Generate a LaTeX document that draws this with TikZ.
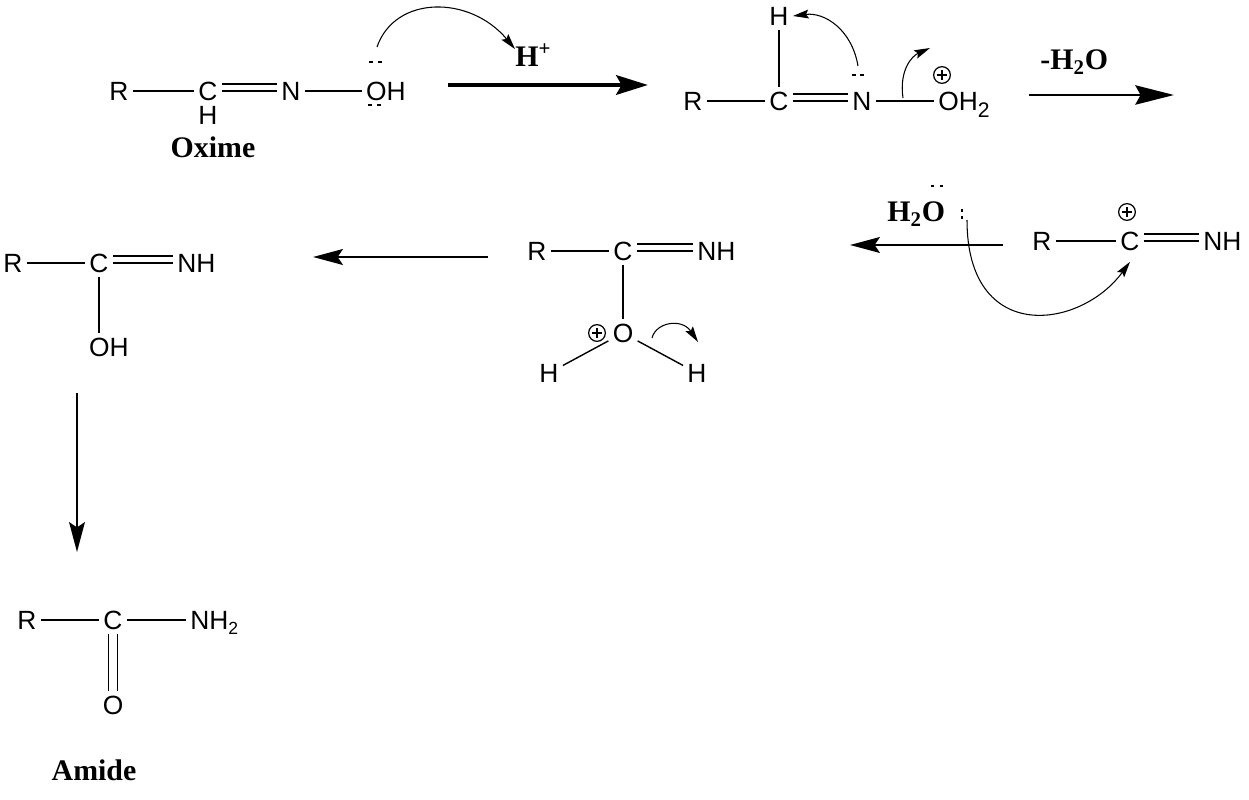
\documentclass[tikz,border=0pt]{standalone}
\usepackage{fontspec}
\setmainfont{Liberation Sans}
\newfontfamily\labelfont{Liberation Serif}
\usetikzlibrary{arrows.meta,calc}

\begin{document}
\begin{tikzpicture}[x=0.02cm,y=-0.02cm,
  atom/.style={inner sep=2.3pt,font=\fontsize{15}{15}\selectfont,text height=10.7pt,text depth=0pt},
  bond/.style={line width=0.8pt},
  lp/.style={line width=1.2pt},
  chg/.style={circle,draw,line width=0.7pt,minimum size=9.5pt,inner sep=0pt,
    path picture={\draw[line width=1.1pt]
      ($(path picture bounding box.north)+(0pt,-2pt)$) -- ($(path picture bounding box.south)+(0pt,2pt)$)
      ($(path picture bounding box.west)+(2pt,0pt)$) -- ($(path picture bounding box.east)+(-2pt,0pt)$);}},
  molname/.style={font=\labelfont\bfseries\fontsize{17}{17}\selectfont,inner sep=0pt},
  cond/.style={font=\labelfont\bfseries\fontsize{17}{17}\selectfont,inner sep=0pt,anchor=base west},
  rxnthick/.style={line width=2.8pt,-{Stealth[length=18pt,width=11pt,inset=3pt]}},
  rxnarrow/.style={line width=1.5pt,-{Stealth[length=17pt,width=9pt,inset=3pt]}},
  push/.style={line width=0.6pt,-{Stealth[length=9pt,width=5pt,inset=1.5pt]}}]
  \useasboundingbox (0,0) rectangle (1249,800);

  % oxime
  \node[atom] (r1) at (119,91) {R};
  \node[atom] (c1) at (208,91) {C};
  \node[atom,inner sep=0.3pt] (h1) at (208,115) {H};
  \node[atom] (n1) at (291,91) {N};
  \node[atom] (o1) at (386,91) {OH};
  \draw[bond] (r1) -- (c1);
  \draw[bond] (c1) -- (n1);
  \draw[bond] ([yshift=4pt]c1.east) -- ([yshift=4pt]n1.west);
  \draw[bond] (n1) -- (o1);
  \draw[lp] (369,62) -- (373,62) (378,62) -- (382,62);
  \draw[lp] (368,105) -- (372,105) (377,105) -- (381,105);
  \node[molname] (oxime) at (213,147) {Oxime};

  \node[cond] (hplus) at (515,67) {H\textsuperscript{+}};
  \coordinate (e1) at (377,47);
  \draw[push] (e1) .. controls (395,-5) and (470,-5) .. ([yshift=-3pt]hplus.north west);
  \coordinate (a1s) at (448,85);
  \coordinate (a1e) at (648,85);
  \draw[rxnthick] (a1s) -- (a1e);

  % protonated oxime
  \node[atom] (r2) at (693,101) {R};
  \node[atom] (c2) at (779,101) {C};
  \node[atom] (h2) at (779,16) {H};
  \node[atom] (n2) at (862,101) {N};
  \node[atom,anchor=west] (o2) at (934,101) {OH\raisebox{-4pt}{\fontsize{12}{12}\selectfont 2}};
  \node[chg] (p2) at (942,75) {};
  \draw[bond] (r2) -- (c2);
  \draw[bond] (c2) -- (h2);
  \draw[bond] (c2) -- (n2);
  \draw[bond] ([yshift=4pt]c2.east) -- ([yshift=4pt]n2.west);
  \draw[bond] (n2) -- (o2);
  \draw[lp] (852,75) -- (856,75) (860,75) -- (864,75);
  \coordinate (e2) at (858,66);
  \draw[push] (e2) .. controls (852,30) and (825,12) .. (h2.east);
  \coordinate (e3) at (903,98);
  \coordinate (t3) at (930,48);
  \draw[push] (e3) .. controls (899,70) and (912,56) .. (t3);

  \node[cond] (loss) at (1040,70) {-H\textsubscript{2}O};
  \coordinate (a2s) at (1029,95);
  \coordinate (a2e) at (1174,95);
  \draw[rxnarrow,-{Stealth[length=22pt,width=11pt,inset=3pt]}] (a2s) -- (a2e);

  % nitrilium ion
  \node[atom] (r3) at (1042,241) {R};
  \node[atom] (c3) at (1130,241) {C};
  \node[atom,anchor=west] (n3) at (1199,241) {NH};
  \node[chg] (p3) at (1127,212) {};
  \draw[bond] (r3) -- (c3);
  \draw[bond] (c3) -- (n3);
  \draw[bond] ([yshift=4pt]c3.east) -- ([yshift=4pt]n3.west);

  \node[cond] (water) at (887,222) {H\textsubscript{2}O};
  \draw[lp] (931,186) -- (934,186) (940,186) -- (943,186);
  \draw[lp] (962,209) -- (962,212) (962,216) -- (962,219);
  \coordinate (a3s) at (1003,245);
  \coordinate (a3e) at (850,245);
  \draw[rxnarrow] (a3s) -- (a3e);
  \coordinate (e4) at (967,220);
  \draw[push] (e4) .. controls (967,345) and (1080,330) .. ([yshift=-4pt]c3.south);

  % oxonium intermediate
  \node[atom] (r4) at (537,251) {R};
  \node[atom] (c4) at (623,251) {C};
  \node[atom,anchor=west] (n4) at (693,251) {NH};
  \node[atom] (o4) at (623,333) {O};
  \node[chg] (p4) at (597,333) {};
  \node[atom] (hl4) at (549,373) {H};
  \node[atom] (hr4) at (697,373) {H};
  \draw[bond] (r4) -- (c4);
  \draw[bond] (c4) -- (n4);
  \draw[bond] ([yshift=4pt]c4.east) -- ([yshift=4pt]n4.west);
  \draw[bond] (c4) -- (o4);
  \draw[bond] (o4) -- (hl4);
  \draw[bond] (o4) -- (hr4);
  \coordinate (e5) at (652,338);
  \coordinate (t5) at (698,342);
  \draw[push] (e5) .. controls (656,322) and (682,318) .. (t5);

  \coordinate (a4s) at (488,257);
  \coordinate (a4e) at (313,257);
  \draw[rxnarrow] (a4s) -- (a4e);

  % imidic acid
  \node[atom] (r5) at (13,263) {R};
  \node[atom] (c5) at (99,263) {C};
  \node[atom,anchor=west] (n5) at (173,263) {NH};
  \node[atom] (o5) at (109,347) {OH};
  \draw[bond] (r5) -- (c5);
  \draw[bond] (c5) -- (n5);
  \draw[bond] ([yshift=4pt]c5.east) -- ([yshift=4pt]n5.west);
  \draw[bond] (c5) -- (c5 |- o5.north);

  \coordinate (a5s) at (77,393);
  \coordinate (a5e) at (77,552);
  \draw[rxnarrow,line width=1.1pt] (a5s) -- (a5e);

  % amide
  \node[atom] (r6) at (27,620) {R};
  \node[atom] (c6) at (113,620) {C};
  \node[atom,anchor=west] (n6) at (186,620) {NH\raisebox{-3pt}{\fontsize{10}{10}\selectfont 2}};
  \node[atom] (o6) at (113,705) {O};
  \draw[bond] (r6) -- (c6);
  \draw[bond] (c6) -- (n6);
  \draw[bond] ([xshift=-2.5pt]c6.south) -- ([xshift=-2.5pt]o6.north);
  \draw[bond] ([xshift=2.5pt]c6.south) -- ([xshift=2.5pt]o6.north);
  \node[molname] (amide) at (94,770) {Amide};
\end{tikzpicture}
\end{document}
